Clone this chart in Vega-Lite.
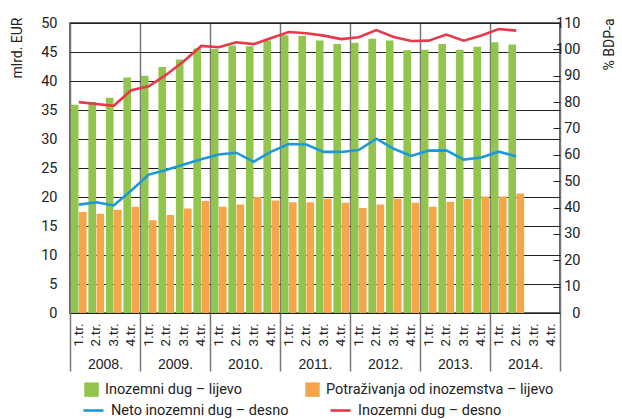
{
  "$schema": "https://vega.github.io/schema/vega-lite/v6.json",
  "width": 490,
  "height": 290,
  "autosize": "none",
  "padding": {"left": 70, "top": 23, "right": 62, "bottom": 106},
  "config": {
    "font": "Roboto",
    "view": {"stroke": "#333", "strokeWidth": 1.5},
    "axis": {"labelColor": "#222", "titleColor": "#222", "titleFontWeight": "normal"},
    "legend": {"labelColor": "#222", "labelLimit": 400}
  },
  "datasets": {
    "bars": [
      {"q": "2008-1", "s": "Inozemni dug – lijevo", "v": 35.9},
      {"q": "2008-2", "s": "Inozemni dug – lijevo", "v": 36.4},
      {"q": "2008-3", "s": "Inozemni dug – lijevo", "v": 37.1},
      {"q": "2008-4", "s": "Inozemni dug – lijevo", "v": 40.6},
      {"q": "2009-1", "s": "Inozemni dug – lijevo", "v": 40.9},
      {"q": "2009-2", "s": "Inozemni dug – lijevo", "v": 42.4},
      {"q": "2009-3", "s": "Inozemni dug – lijevo", "v": 43.7},
      {"q": "2009-4", "s": "Inozemni dug – lijevo", "v": 45.6},
      {"q": "2010-1", "s": "Inozemni dug – lijevo", "v": 45.5},
      {"q": "2010-2", "s": "Inozemni dug – lijevo", "v": 46.1},
      {"q": "2010-3", "s": "Inozemni dug – lijevo", "v": 46.0},
      {"q": "2010-4", "s": "Inozemni dug – lijevo", "v": 47.0},
      {"q": "2011-1", "s": "Inozemni dug – lijevo", "v": 47.9},
      {"q": "2011-2", "s": "Inozemni dug – lijevo", "v": 47.8},
      {"q": "2011-3", "s": "Inozemni dug – lijevo", "v": 47.0},
      {"q": "2011-4", "s": "Inozemni dug – lijevo", "v": 46.4},
      {"q": "2012-1", "s": "Inozemni dug – lijevo", "v": 46.6},
      {"q": "2012-2", "s": "Inozemni dug – lijevo", "v": 47.3},
      {"q": "2012-3", "s": "Inozemni dug – lijevo", "v": 47.0},
      {"q": "2012-4", "s": "Inozemni dug – lijevo", "v": 45.3},
      {"q": "2013-1", "s": "Inozemni dug – lijevo", "v": 45.4},
      {"q": "2013-2", "s": "Inozemni dug – lijevo", "v": 46.4},
      {"q": "2013-3", "s": "Inozemni dug – lijevo", "v": 45.4},
      {"q": "2013-4", "s": "Inozemni dug – lijevo", "v": 45.9},
      {"q": "2014-1", "s": "Inozemni dug – lijevo", "v": 46.7},
      {"q": "2014-2", "s": "Inozemni dug – lijevo", "v": 46.3},
      {"q": "2008-1", "s": "Potraživanja od inozemstva – lijevo", "v": 17.4},
      {"q": "2008-2", "s": "Potraživanja od inozemstva – lijevo", "v": 17.1},
      {"q": "2008-3", "s": "Potraživanja od inozemstva – lijevo", "v": 17.8},
      {"q": "2008-4", "s": "Potraživanja od inozemstva – lijevo", "v": 18.3},
      {"q": "2009-1", "s": "Potraživanja od inozemstva – lijevo", "v": 16.0},
      {"q": "2009-2", "s": "Potraživanja od inozemstva – lijevo", "v": 16.9},
      {"q": "2009-3", "s": "Potraživanja od inozemstva – lijevo", "v": 18.0},
      {"q": "2009-4", "s": "Potraživanja od inozemstva – lijevo", "v": 19.3},
      {"q": "2010-1", "s": "Potraživanja od inozemstva – lijevo", "v": 18.3},
      {"q": "2010-2", "s": "Potraživanja od inozemstva – lijevo", "v": 18.7},
      {"q": "2010-3", "s": "Potraživanja od inozemstva – lijevo", "v": 20.0},
      {"q": "2010-4", "s": "Potraživanja od inozemstva – lijevo", "v": 19.4},
      {"q": "2011-1", "s": "Potraživanja od inozemstva – lijevo", "v": 19.1},
      {"q": "2011-2", "s": "Potraživanja od inozemstva – lijevo", "v": 19.1},
      {"q": "2011-3", "s": "Potraživanja od inozemstva – lijevo", "v": 19.7},
      {"q": "2011-4", "s": "Potraživanja od inozemstva – lijevo", "v": 19.0},
      {"q": "2012-1", "s": "Potraživanja od inozemstva – lijevo", "v": 18.1},
      {"q": "2012-2", "s": "Potraživanja od inozemstva – lijevo", "v": 18.7},
      {"q": "2012-3", "s": "Potraživanja od inozemstva – lijevo", "v": 19.7},
      {"q": "2012-4", "s": "Potraživanja od inozemstva – lijevo", "v": 19.0},
      {"q": "2013-1", "s": "Potraživanja od inozemstva – lijevo", "v": 18.3},
      {"q": "2013-2", "s": "Potraživanja od inozemstva – lijevo", "v": 19.2},
      {"q": "2013-3", "s": "Potraživanja od inozemstva – lijevo", "v": 19.7},
      {"q": "2013-4", "s": "Potraživanja od inozemstva – lijevo", "v": 20.1},
      {"q": "2014-1", "s": "Potraživanja od inozemstva – lijevo", "v": 20.1},
      {"q": "2014-2", "s": "Potraživanja od inozemstva – lijevo", "v": 20.6}
    ],
    "lines": [
      {"q": "2008-1", "s": "Neto inozemni dug – desno", "v": 41.1},
      {"q": "2008-2", "s": "Neto inozemni dug – desno", "v": 42.0},
      {"q": "2008-3", "s": "Neto inozemni dug – desno", "v": 40.8},
      {"q": "2008-4", "s": "Neto inozemni dug – desno", "v": 46.5},
      {"q": "2009-1", "s": "Neto inozemni dug – desno", "v": 52.5},
      {"q": "2009-2", "s": "Neto inozemni dug – desno", "v": 54.2},
      {"q": "2009-3", "s": "Neto inozemni dug – desno", "v": 56.3},
      {"q": "2009-4", "s": "Neto inozemni dug – desno", "v": 58.3},
      {"q": "2010-1", "s": "Neto inozemni dug – desno", "v": 60.1},
      {"q": "2010-2", "s": "Neto inozemni dug – desno", "v": 60.8},
      {"q": "2010-3", "s": "Neto inozemni dug – desno", "v": 57.4},
      {"q": "2010-4", "s": "Neto inozemni dug – desno", "v": 61.2},
      {"q": "2011-1", "s": "Neto inozemni dug – desno", "v": 64.1},
      {"q": "2011-2", "s": "Neto inozemni dug – desno", "v": 63.9},
      {"q": "2011-3", "s": "Neto inozemni dug – desno", "v": 61.1},
      {"q": "2011-4", "s": "Neto inozemni dug – desno", "v": 61.1},
      {"q": "2012-1", "s": "Neto inozemni dug – desno", "v": 61.8},
      {"q": "2012-2", "s": "Neto inozemni dug – desno", "v": 66.1},
      {"q": "2012-3", "s": "Neto inozemni dug – desno", "v": 62.3},
      {"q": "2012-4", "s": "Neto inozemni dug – desno", "v": 59.6},
      {"q": "2013-1", "s": "Neto inozemni dug – desno", "v": 61.6},
      {"q": "2013-2", "s": "Neto inozemni dug – desno", "v": 61.7},
      {"q": "2013-3", "s": "Neto inozemni dug – desno", "v": 58.2},
      {"q": "2013-4", "s": "Neto inozemni dug – desno", "v": 59.0},
      {"q": "2014-1", "s": "Neto inozemni dug – desno", "v": 61.2},
      {"q": "2014-2", "s": "Neto inozemni dug – desno", "v": 59.4},
      {"q": "2008-1", "s": "Inozemni dug – desno", "v": 80.0},
      {"q": "2008-2", "s": "Inozemni dug – desno", "v": 79.3},
      {"q": "2008-3", "s": "Inozemni dug – desno", "v": 78.6},
      {"q": "2008-4", "s": "Inozemni dug – desno", "v": 84.5},
      {"q": "2009-1", "s": "Inozemni dug – desno", "v": 86.0},
      {"q": "2009-2", "s": "Inozemni dug – desno", "v": 90.4},
      {"q": "2009-3", "s": "Inozemni dug – desno", "v": 95.5},
      {"q": "2009-4", "s": "Inozemni dug – desno", "v": 101.3},
      {"q": "2010-1", "s": "Inozemni dug – desno", "v": 100.8},
      {"q": "2010-2", "s": "Inozemni dug – desno", "v": 102.7},
      {"q": "2010-3", "s": "Inozemni dug – desno", "v": 102.0},
      {"q": "2010-4", "s": "Inozemni dug – desno", "v": 104.3},
      {"q": "2011-1", "s": "Inozemni dug – desno", "v": 106.6},
      {"q": "2011-2", "s": "Inozemni dug – desno", "v": 106.1},
      {"q": "2011-3", "s": "Inozemni dug – desno", "v": 105.2},
      {"q": "2011-4", "s": "Inozemni dug – desno", "v": 103.9},
      {"q": "2012-1", "s": "Inozemni dug – desno", "v": 104.6},
      {"q": "2012-2", "s": "Inozemni dug – desno", "v": 107.3},
      {"q": "2012-3", "s": "Inozemni dug – desno", "v": 104.7},
      {"q": "2012-4", "s": "Inozemni dug – desno", "v": 103.2},
      {"q": "2013-1", "s": "Inozemni dug – desno", "v": 103.3},
      {"q": "2013-2", "s": "Inozemni dug – desno", "v": 105.6},
      {"q": "2013-3", "s": "Inozemni dug – desno", "v": 103.3},
      {"q": "2013-4", "s": "Inozemni dug – desno", "v": 105.3},
      {"q": "2014-1", "s": "Inozemni dug – desno", "v": 107.7},
      {"q": "2014-2", "s": "Inozemni dug – desno", "v": 107.1}
    ],
    "years": [
      {"yr": "2008"}, {"yr": "2009"}, {"yr": "2010"}, {"yr": "2011"}, {"yr": "2012"}, {"yr": "2013"}, {"yr": "2014"}
    ]
  },
  "layer": [
    {
      "data": {"name": "years"},
      "mark": {"type": "rule", "opacity": 0},
      "encoding": {
        "x": {
          "field": "yr", "type": "ordinal",
          "scale": {"domain": ["2008", "2009", "2010", "2011", "2012", "2013", "2014"], "paddingInner": 0, "paddingOuter": 0},
          "axis": {
            "orient": "bottom", "title": null, "domain": false,
            "tickBand": "extent", "tickSize": 58, "tickColor": "#777", "tickWidth": 1.5,
            "grid": true, "gridColor": "#777", "gridWidth": 1.5,
            "labelPadding": -14, "labelFontSize": 14, "labelAngle": 0, "labelFont": "Liberation Sans", "labelFontWeight": "normal", "labelColor": "#222",
            "labelExpr": "datum.value ? datum.value + '.' : ''"
          }
        }
      }
    },
    {
      "data": {"name": "bars"},
      "mark": {"type": "bar"},
      "encoding": {
        "x": {
          "field": "q", "type": "ordinal",
          "scale": {"domain": ["2008-1","2008-2","2008-3","2008-4","2009-1","2009-2","2009-3","2009-4","2010-1","2010-2","2010-3","2010-4","2011-1","2011-2","2011-3","2011-4","2012-1","2012-2","2012-3","2012-4","2013-1","2013-2","2013-3","2013-4","2014-1","2014-2","2014-3","2014-4"], "paddingInner": 0.1, "paddingOuter": 0.05},
          "axis": {
            "orient": "bottom", "title": null, "domain": false, "ticks": false,
            "labelAngle": 270, "labelPadding": 10, "labelFontSize": 13.5, "labelFont": "Roboto",
            "labelExpr": "substring(datum.label, 5) + '.tr.'"
          }
        },
        "xOffset": {
          "field": "s", "type": "nominal",
          "scale": {"domain": ["Inozemni dug – lijevo", "Potraživanja od inozemstva – lijevo"], "paddingInner": 0.06}
        },
        "y": {
          "field": "v", "type": "quantitative",
          "scale": {"domain": [0, 50]},
          "axis": {
            "orient": "left", "values": [0,5,10,15,20,25,30,35,40,45,50],
            "grid": true, "gridColor": "#222", "gridWidth": 1,
            "ticks": false, "domain": false, "labelPadding": 13, "labelFontSize": 14.5, "labelFont": "Roboto",
            "title": "mlrd. EUR", "titleFontSize": 14, "titleAnchor": "end", "titleAngle": 270, "titleFont": "Roboto",
            "titleAlign": "right", "titleBaseline": "middle", "titleX": -53, "titleY": -6
          }
        },
        "fill": {
          "field": "s", "type": "nominal",
          "scale": {"domain": ["Inozemni dug – lijevo", "Potraživanja od inozemstva – lijevo"], "range": ["#92c54d", "#f7a54b"]},
          "legend": {
            "title": null, "orient": "none", "legendX": 14, "legendY": 359,
            "direction": "horizontal", "columns": 2, "columnPadding": 62,
            "symbolType": "square", "symbolSize": 210, "symbolStrokeWidth": 0,
            "labelFontSize": 14.5, "labelOffset": 6, "labelFont": "Roboto"
          }
        }
      }
    },
    {
      "data": {"name": "lines"},
      "mark": {"type": "line", "strokeWidth": 2.6},
      "encoding": {
        "x": {
          "field": "q", "type": "ordinal",
          "scale": {"domain": ["2008-1","2008-2","2008-3","2008-4","2009-1","2009-2","2009-3","2009-4","2010-1","2010-2","2010-3","2010-4","2011-1","2011-2","2011-3","2011-4","2012-1","2012-2","2012-3","2012-4","2013-1","2013-2","2013-3","2013-4","2014-1","2014-2","2014-3","2014-4"], "paddingInner": 0.1, "paddingOuter": 0.05},
          "axis": null
        },
        "y": {
          "field": "v", "type": "quantitative",
          "scale": {"domain": [0, 110]},
          "axis": {
            "orient": "right", "values": [0,10,20,30,40,50,60,70,80,90,100,110],
            "grid": false, "domain": false, "tickSize": -7, "tickColor": "#222",
            "labelAlign": "right", "labelPadding": 27, "labelFontSize": 14.5, "labelFont": "Roboto",
            "title": "% BDP-a", "titleFontSize": 14, "titleAngle": 270, "titleAnchor": "end", "titleFont": "Roboto",
            "titleAlign": "right", "titleBaseline": "middle", "titleX": 49, "titleY": -5
          }
        },
        "stroke": {
          "field": "s", "type": "nominal",
          "scale": {"domain": ["Neto inozemni dug – desno", "Inozemni dug – desno"], "range": ["#1b9ad7", "#e8384a"]},
          "legend": {
            "title": null, "orient": "none", "legendX": 12, "legendY": 376,
            "direction": "horizontal", "columns": 2, "columnPadding": 36,
            "symbolType": "stroke", "symbolSize": 400, "symbolStrokeWidth": 2.6,
            "labelFontSize": 14.5, "labelOffset": 6, "labelFont": "Roboto"
          }
        }
      }
    }
  ],
  "resolve": {"scale": {"x": "independent", "y": "independent", "xOffset": "independent"}}
}
